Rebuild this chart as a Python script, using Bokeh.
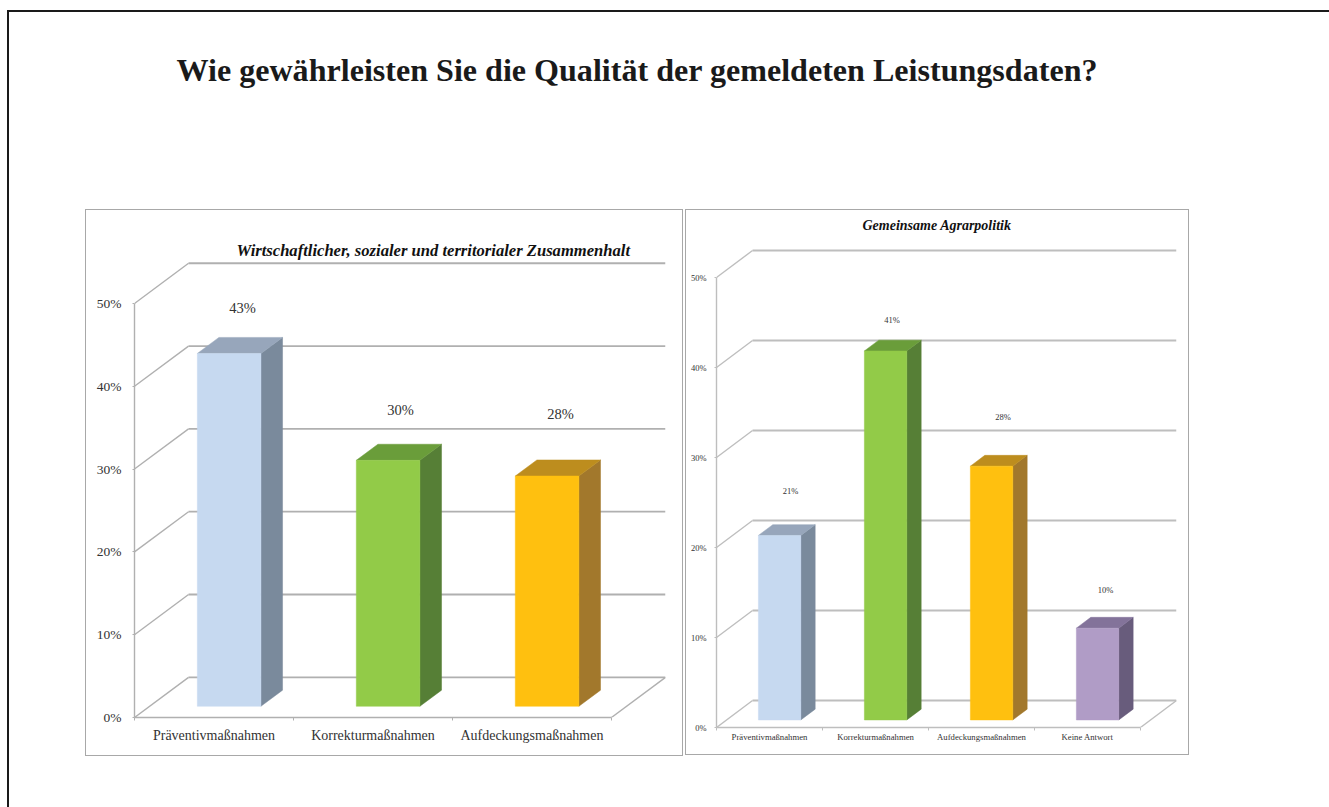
from bokeh.plotting import figure
from bokeh.layouts import column, row
from bokeh.models import FixedTicker, Label, Range1d, PrintfTickFormatter
from bokeh.core.properties import value
from bokeh.embed import file_html
from bokeh.resources import INLINE

MAIN_TITLE = "Wie gewährleisten Sie die Qualität der gemeldeten Leistungsdaten?"

LEFT_TITLE = "Wirtschaftlicher, sozialer und territorialer Zusammenhalt"
LEFT_CATEGORIES = ["Präventivmaßnahmen", "Korrekturmaßnahmen", "Aufdeckungsmaßnahmen"]
LEFT_VALUES = [42.6, 29.7, 27.8]
LEFT_LABELS = ["43%", "30%", "28%"]

RIGHT_TITLE = "Gemeinsame Agrarpolitik"
RIGHT_CATEGORIES = ["Präventivmaßnahmen", "Korrekturmaßnahmen", "Aufdeckungsmaßnahmen", "Keine Antwort"]
RIGHT_VALUES = [20.5, 41.0, 28.2, 10.2]
RIGHT_LABELS = ["21%", "41%", "28%", "10%"]

Y_TICKS = [0, 10, 20, 30, 40, 50]

FRONT = ["#c6d9f0", "#92cb48", "#ffc00f", "#b09cc6"]
SIDE = ["#7a8a9c", "#567f36", "#a2782c", "#685c7c"]
TOP = ["#97a6bb", "#6a9d3a", "#bd8d1e", "#83739a"]

SERIF = "Liberation Serif"
BORDER = "#a8a8a8"


def panel(title, cats, vals, labels, label_dx, label_dy, width, height, borders,
          margin, depth_x, depth_y, y_end, title_px, tick_px, cat_px, val_px, title_xy,
          cat_standoff, tick_standoff, grid):
    left, right, top, bottom = borders
    n = len(cats)
    x0, x1 = -0.5, n - 0.5
    p = figure(width=width, height=height, output_backend="svg", toolbar_location=None,
               x_range=Range1d(x0, x1 + depth_x), y_range=Range1d(0, y_end),
               min_border_left=left, min_border_right=right, min_border_top=top,
               min_border_bottom=bottom)
    p.grid.visible = False
    p.outline_line_color = None
    p.background_fill_color = "white"

    # back wall and side wall lines
    p.segment([x0 + depth_x] * len(Y_TICKS), [t + depth_y for t in Y_TICKS],
              [x1 + depth_x] * len(Y_TICKS), [t + depth_y for t in Y_TICKS],
              line_color=grid, line_width=1.8)
    p.segment([x0] * len(Y_TICKS), Y_TICKS,
              [x0 + depth_x] * len(Y_TICKS), [t + depth_y for t in Y_TICKS],
              line_color=grid, line_width=1.4)
    p.segment([x1], [0], [x1 + depth_x], [depth_y], line_color=grid, line_width=1.4)

    # bars, projected from the chart's floor
    d0, d1, w = 0.28, 0.68, 0.40
    xl = [i - w / 2 + d0 * depth_x for i in range(n)]
    xr = [i + w / 2 + d0 * depth_x for i in range(n)]
    yb = d0 * depth_y
    yt = [v + yb for v in vals]
    dx = (d1 - d0) * depth_x
    dy = (d1 - d0) * depth_y
    p.patches([[r, r + dx, r + dx, r] for r in xr],
              [[yb, yb + dy, t + dy, t] for t in yt],
              fill_color=SIDE[:n], line_color=SIDE[:n], line_width=0.5)
    p.patches([[l, r, r + dx, l + dx] for l, r in zip(xl, xr)],
              [[t, t, t + dy, t + dy] for t in yt],
              fill_color=TOP[:n], line_color=TOP[:n], line_width=0.5)
    p.quad(left=xl, right=xr, bottom=[yb] * n, top=yt,
           fill_color=FRONT[:n], line_color=FRONT[:n], line_width=0.5)

    p.text([(l + r) / 2 for l, r in zip(xl, xr)], yt, text=labels,
           x_offset=label_dx, y_offset=label_dy,
           text_font=value(SERIF), text_font_size=val_px, text_color="#333333",
           text_align="center", text_baseline="middle")

    ya = p.yaxis[0]
    ya.ticker = FixedTicker(ticks=Y_TICKS)
    ya.formatter = PrintfTickFormatter(format="%d%%")
    ya.bounds = (0, 50)
    ya.axis_line_color = grid
    ya.axis_line_width = 1.4
    ya.major_tick_line_color = grid
    ya.major_tick_in = 0
    ya.major_tick_out = 2
    ya.minor_tick_line_color = None
    ya.major_label_text_font = SERIF
    ya.major_label_text_font_size = tick_px
    ya.major_label_text_color = "#333333"
    ya.major_label_standoff = tick_standoff

    label_ticks = list(range(n))
    xa = p.xaxis[0]
    xa.ticker = FixedTicker(ticks=label_ticks, minor_ticks=[x0 + i for i in range(n + 1)])
    xa.major_label_overrides = {t: c for t, c in zip(label_ticks, cats)}
    xa.bounds = (x0, x1)
    xa.axis_line_color = grid
    xa.axis_line_width = 1.4
    xa.major_tick_line_color = None
    xa.major_tick_in = 0
    xa.major_tick_out = 0
    xa.minor_tick_line_color = grid
    xa.minor_tick_in = 0
    xa.minor_tick_out = 3
    xa.major_label_text_font = SERIF
    xa.major_label_text_font_size = cat_px
    xa.major_label_text_color = "#333333"
    xa.major_label_standoff = cat_standoff
    xa.major_label_orientation = "horizontal"

    p.add_layout(Label(x=title_xy[0], y=title_xy[1], x_units="screen", y_units="screen",
                       text=title, text_font=SERIF, text_font_style="bold italic",
                       text_font_size=title_px, text_color="#111111",
                       text_align="left", text_baseline="middle"))
    return column(p, margin=margin, styles={"border": f"1px solid {BORDER}"})


title_fig = figure(width=1300, height=165, output_backend="svg", toolbar_location=None,
                   x_axis_location=None, y_axis_location=None, margin=(32, 0, 0, 0),
                   min_border=0, title=MAIN_TITLE)
title_fig.grid.visible = False
title_fig.outline_line_color = None
title_fig.title.text_font = SERIF
title_fig.title.text_font_style = "bold"
title_fig.title.text_font_size = "32.1px"
title_fig.title.text_color = "#1a1a1a"
title_fig.title.align = "left"
title_fig.title.offset = 167

left_panel = panel(LEFT_TITLE, LEFT_CATEGORIES, LEFT_VALUES, LEFT_LABELS,
                   [13.5, 12.5, 13.5], [-45, -50, -62],
                   596, 545, (48, 17, 30, 38), (0, 0, 0, 76),
                   0.34, 4.85, 57.6, "16.6px", "13.5px", "14px", "14.5px", (102, 467), 7, 11,
                   "#b0b0b0")
right_panel = panel(RIGHT_TITLE, RIGHT_CATEGORIES, RIGHT_VALUES, RIGHT_LABELS,
                    [11, 6.5, 11.5, 8], [-44, -31, -49, -38],
                    502, 544, (30, 12, 5, 27), (0, 0, 0, 2),
                    0.34, 3.0, 56.89, "14px", "8.5px", "8.7px", "8.5px", (146, 502), 1, 8,
                    "#bebebe")

root = column(title_fig, row(left_panel, right_panel), margin=(10, 0, 0, 7),
              styles={"border-top": "2px solid #1a1a1a", "border-left": "2px solid #1a1a1a"})
root.width = 1322
root.height = 797

open("out.html", "w").write(file_html(root, INLINE))
